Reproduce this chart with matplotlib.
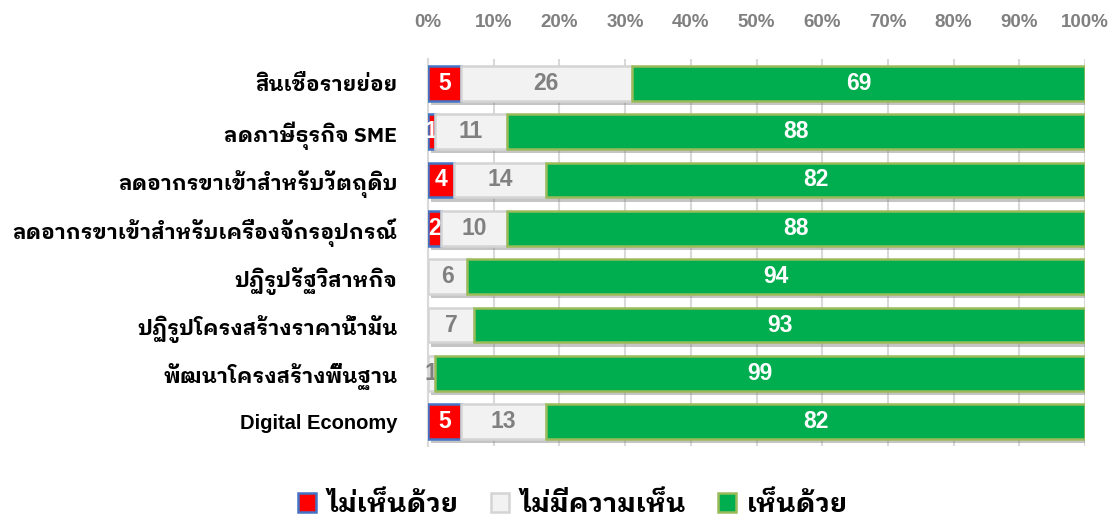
import matplotlib
matplotlib.use("Agg")
import matplotlib.pyplot as plt
import matplotlib.patheffects as pe
from matplotlib.patches import Patch
from matplotlib.ticker import FuncFormatter

categories = [
    "สินเชื่อรายย่อย",
    "ลดภาษีธุรกิจ SME",
    "ลดอากรขาเข้าสำหรับวัตถุดิบ",
    "ลดอากรขาเข้าสำหรับเครื่องจักรอุปกรณ์",
    "ปฏิรูปรัฐวิสาหกิจ",
    "ปฏิรูปโครงสร้างราคาน้ำมัน",
    "พัฒนาโครงสร้างพื้นฐาน",
    "Digital Economy",
]
disagree = [5, 1, 4, 2, 0, 0, 0, 5]
no_opinion = [26, 11, 14, 10, 6, 7, 1, 13]
agree = [69, 88, 82, 88, 94, 93, 99, 82]
series_names = ["ไม่เห็นด้วย", "ไม่มีความเห็น", "เห็นด้วย"]
x_ticks = [0, 10, 20, 30, 40, 50, 60, 70, 80, 90, 100]

THAI = ["IBM Plex Sans Thai Looped", "Noto Sans Thai Looped", "DejaVu Sans"]
NUM = ["Liberation Sans", "DejaVu Sans"]
NARROW = ["Liberation Sans Narrow", "Liberation Sans", "DejaVu Sans"]

face = ["#FF0000", "#F2F2F2", "#00AD4F"]
edge = ["#4472C4", "#D4D4D4", "#9BBB59"]
lblcol = ["white", "#808080", "white"]

fig = plt.figure(figsize=(11.15, 5.22), dpi=100)
ax = fig.add_axes([0.3839, 0.1456, 0.9731 - 0.3839, 0.887 - 0.1456])

y = list(range(len(categories)))
shadow = [pe.SimplePatchShadow(offset=(2, -3), shadow_rgbFace="#7f7f7f", alpha=0.45), pe.Normal()]

left = [0] * len(categories)
for k, vals in enumerate([disagree, no_opinion, agree]):
    bars = ax.barh(y, vals, left=left, height=0.72, color=face[k], edgecolor=edge[k],
                   linewidth=1.8, zorder=3 + k * 2, label=series_names[k])
    for b in bars:
        b.set_path_effects(shadow)
    for i, v in enumerate(vals):
        if v > 0:
            ax.text(left[i] + v / 2, i, str(v), ha="center", va="center", color=lblcol[k],
                    fontsize=16.5, fontweight="bold", family=NUM, zorder=4 + k * 2)
    left = [l + v for l, v in zip(left, vals)]

ax.set_xlim(0, 100)
ax.set_ylim(len(categories) - 0.5, -0.5)
ax.set_xticks(x_ticks)
ax.xaxis.set_major_formatter(FuncFormatter(lambda v, p: f"{int(v)}%"))
ax.xaxis.tick_top()
ax.tick_params(axis="x", length=0, pad=20, labelcolor="#808080")
for t in ax.get_xticklabels():
    t.set_fontfamily(NARROW)
    t.set_fontweight("bold")
    t.set_fontsize(13.5)
ax.set_yticks(y)
ax.set_yticklabels(categories)
ax.tick_params(axis="y", length=0, pad=22)
for t in ax.get_yticklabels():
    if t.get_text() == "Digital Economy":
        t.set_fontfamily(NUM)
        t.set_fontsize(14.5)
    else:
        t.set_fontfamily(THAI)
        t.set_fontsize(15.2)
    t.set_fontweight("bold")

ax.grid(axis="x", color="#D9D9D9", linewidth=1.5, zorder=0)
ax.set_axisbelow(True)
for s in ["top", "right", "bottom"]:
    ax.spines[s].set_visible(False)
ax.spines["left"].set_color("#D9D9D9")
ax.spines["left"].set_linewidth(1.5)

handles = [Patch(facecolor=face[k], edgecolor=edge[k], linewidth=1.8) for k in range(3)]
fig.legend(handles, series_names, loc="center", bbox_to_anchor=(0.514, 0.033), ncol=3,
           frameon=False, prop={"family": THAI, "weight": "bold", "size": 19.5},
           handlelength=0.68, handleheight=0.68, handletextpad=0.4, columnspacing=1.2)

fig.savefig("out.png", dpi=100)
